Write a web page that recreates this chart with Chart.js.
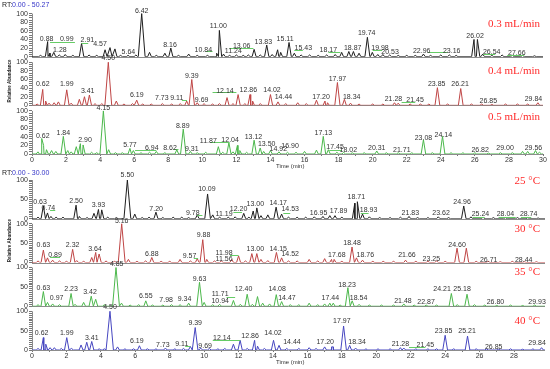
<!DOCTYPE html>
<html>
<head>
<meta charset="utf-8">
<script src="https://cdn.jsdelivr.net/npm/chart.js@4"></script>
<style>
body { margin: 0; background: #fff; width: 550px; height: 369px; overflow: hidden; position: relative; }
canvas { position: absolute; left: 0; }
#flow { top: 0; }
#temp { top: 168px; }
</style>
</head>
<body>
<canvas id="flow" width="550" height="172"></canvas>
<canvas id="temp" width="550" height="201"></canvas>
<script>
// panel names and axis labels
var flowNames = ['0.3 mL/min', '0.4 mL/min', '0.5 mL/min'];
var tempNames = ['25 \u00b0C', '30 \u00b0C', '35 \u00b0C', '40 \u00b0C'];
var yLabelsTop = [0, 20, 40, 60, 80, 100];
var yLabelsBottom = [0, 50, 100];
var xLabelsTop = [0, 2, 4, 6, 8, 10, 12, 14, 16, 18, 20, 22, 24, 26, 28, 30];
var xLabelsBottom = [0, 2, 4, 6, 8, 10, 12, 14, 16, 18, 20, 22, 24, 26, 28];

// peaks: [retention time (min), relative abundance %]
var peaks03 = [[0.5,3],[0.92,35],[1.05,8],[1.28,10],[1.6,4],[1.95,5],[2.4,3],[2.91,31],[3.35,4],[3.8,3],[4.29,16],[4.58,21],[4.87,18],[5.2,3],[5.64,3],[6.1,4],[6.44,100],[6.9,10],[7.3,3],[7.8,8],[8.15,20],[8.6,3],[9.2,6],[9.7,3],[10.3,3],[10.84,8],[11.0,61],[11.24,6],[11.6,3],[12.0,4],[12.4,3],[12.7,4],[13.04,17],[13.4,4],[13.78,27],[14.1,5],[14.42,16],[14.6,10],[15.09,33],[15.4,8],[15.8,4],[16.3,4],[16.8,3],[17.3,4],[17.8,5],[18.18,10],[18.6,12],[18.87,12],[19.2,8],[19.69,45],[19.98,10],[20.3,5],[20.6,5],[21.0,4],[21.5,3],[22.0,3],[22.5,3],[22.98,6],[23.4,3],[24.0,4],[24.5,4],[24.9,3],[25.95,40],[26.15,40],[26.46,6],[27.0,3],[27.6,4],[28.2,3],[28.8,3],[29.5,2]];
var peaks04 = [[0.3,3],[0.63,37],[0.8,10],[1.0,5],[1.3,6],[1.55,8],[2.04,36],[2.3,5],[2.78,14],[3.08,20],[3.37,24],[3.7,4],[4.1,4],[4.48,100],[4.95,10],[5.4,3],[5.9,4],[6.15,12],[6.5,3],[7.0,3],[7.65,4],[8.2,3],[8.7,4],[9.08,10],[9.38,60],[9.7,6],[10.1,4],[10.6,3],[11.0,4],[11.45,18],[11.8,4],[12.1,25],[12.5,4],[12.8,25],[12.95,10],[13.4,4],[14.0,25],[14.44,8],[14.9,4],[15.6,6],[16.1,4],[16.7,12],[17.2,10],[17.35,6],[17.93,53],[18.34,14],[18.7,5],[19.2,3],[20.0,3],[20.6,3],[21.28,6],[21.5,5],[22.2,3],[22.8,3],[23.3,3],[23.8,41],[24.4,3],[25.17,39],[25.8,3],[26.4,3],[27.0,2],[27.8,3],[28.5,3],[29.1,3],[29.7,6]];
var peaks05 = [[0.35,5],[0.57,36],[0.68,20],[0.85,10],[1.15,8],[1.4,6],[1.84,41],[2.1,8],[2.3,5],[2.6,17],[2.84,24],[3.0,21],[3.5,4],[3.8,3],[4.19,100],[4.5,10],[4.9,3],[5.3,3],[5.75,13],[5.95,8],[6.4,3],[6.9,4],[7.3,6],[7.8,3],[8.5,10],[8.88,58],[9.3,6],[9.7,3],[10.2,4],[10.94,17],[11.2,4],[11.56,26],[11.8,5],[12.06,20],[12.2,8],[12.6,4],[13.04,32],[13.4,14],[13.6,6],[14.0,8],[14.5,5],[15.0,4],[15.5,4],[16.0,6],[16.7,9],[17.1,41],[17.4,10],[17.9,4],[18.3,4],[18.8,3],[19.5,3],[20.24,7],[20.8,3],[21.5,3],[22.3,3],[22.98,33],[23.5,3],[24.1,41],[24.6,3],[25.3,3],[26.0,3],[26.8,2],[27.5,3],[28.2,3],[28.8,6],[29.1,6],[29.56,8],[29.8,4]];
var peaks25 = [[0.35,4],[0.66,33],[0.9,15],[1.1,6],[1.4,4],[1.8,4],[2.56,35],[2.75,6],[3.2,3],[3.6,14],[3.86,24],[4.05,23],[4.4,4],[4.9,3],[5.54,100],[5.97,12],[6.4,3],[6.8,4],[7.2,17],[7.6,3],[8.2,4],[8.7,4],[9.1,3],[9.6,10],[10.2,64],[10.5,10],[10.9,4],[11.4,4],[11.8,5],[12.3,14],[12.6,4],[12.85,20],[13.06,28],[13.3,8],[13.7,10],[14.18,30],[14.5,12],[14.9,4],[15.4,4],[15.9,4],[16.4,5],[16.9,6],[17.3,8],[17.6,8],[18.0,4],[18.75,40],[18.9,44],[19.2,12],[19.6,5],[20.2,3],[20.8,3],[21.4,4],[21.9,6],[22.4,3],[23.0,3],[23.6,5],[24.2,3],[25.08,33],[25.5,5],[26.2,4],[26.8,3],[27.5,3],[28.2,3],[28.8,3],[29.4,2]];
var peaks30 = [[0.35,4],[0.66,32],[0.9,12],[1.2,6],[1.6,4],[2.0,3],[2.36,34],[2.6,5],[3.0,3],[3.47,13],[3.7,26],[3.9,22],[4.3,4],[4.8,3],[5.21,100],[5.6,8],[6.1,3],[6.6,4],[6.96,13],[7.5,3],[8.0,3],[8.6,8],[9.2,4],[9.6,10],[9.92,59],[10.15,8],[10.6,4],[11.0,4],[11.6,8],[12.0,17],[12.4,4],[12.77,23],[13.06,23],[13.3,8],[13.7,5],[14.2,26],[14.5,12],[14.9,4],[15.4,4],[16.1,8],[16.6,4],[17.0,10],[17.4,8],[17.55,8],[18.0,3],[18.59,40],[18.85,12],[19.2,6],[19.8,3],[20.4,3],[21.0,3],[21.7,6],[22.3,3],[23.0,3],[23.5,4],[24.0,3],[24.69,37],[25.23,37],[25.8,3],[26.5,3],[27.2,2],[27.9,3],[28.6,2],[29.3,2]];
var peaks35 = [[0.35,4],[0.66,38],[0.9,10],[1.2,6],[1.6,4],[2.27,33],[2.5,5],[3.0,10],[3.44,26],[3.7,18],[4.2,4],[4.88,100],[5.2,8],[5.7,3],[6.2,4],[6.61,14],[7.0,3],[7.6,3],[8.1,4],[8.6,4],[9.1,8],[9.73,62],[10.0,10],[10.5,4],[10.9,5],[11.7,15],[12.1,5],[12.5,31],[12.8,5],[13.1,25],[13.4,8],[13.8,6],[14.19,30],[14.5,12],[15.0,4],[15.5,4],[16.1,8],[16.6,4],[17.0,6],[17.3,8],[17.5,8],[17.9,3],[18.35,48],[18.6,14],[19.0,5],[19.6,3],[20.3,3],[21.0,3],[21.6,6],[22.2,3],[22.9,3],[23.5,3],[24.36,33],[24.7,4],[25.27,31],[25.7,4],[26.3,3],[27.0,2],[27.8,3],[28.5,2],[29.2,3]];
var peaks40 = [[0.35,4],[0.66,32],[0.8,15],[1.05,6],[1.3,6],[1.7,4],[2.02,32],[2.3,4],[2.85,13],[3.18,20],[3.47,22],[3.9,3],[4.2,3],[4.53,100],[4.97,8],[5.4,3],[5.9,3],[6.24,11],[6.7,3],[7.2,3],[7.75,5],[8.3,3],[8.8,4],[9.2,9],[9.48,58],[9.8,5],[10.3,4],[10.8,3],[11.2,4],[11.7,15],[12.09,25],[12.5,4],[12.93,25],[13.1,10],[13.5,4],[14.03,25],[14.35,12],[14.8,4],[15.5,4],[16.1,6],[16.5,4],[17.0,8],[17.4,8],[17.5,8],[18.1,62],[18.45,12],[18.8,5],[19.4,3],[20.1,3],[20.8,3],[21.4,6],[21.6,5],[22.3,3],[23.0,3],[23.5,3],[24.0,38],[24.5,3],[25.3,36],[25.8,3],[26.4,3],[27.1,2],[27.8,3],[28.5,2],[29.1,3],[29.6,6]];

// peak annotations: [text, time where the text is centred, height of text centre %]
var labels03 = [['0.88',0.86,42],['0.99',2.04,41],['1.28',1.64,16],['2.91',3.25,38],['4.57',3.99,30],['5.64',5.66,10],['6.42',6.44,107],['8.16',8.1,27],['10.84',10.06,16],['11.00',10.94,71],['11.24',11.82,12],['13.06',12.31,25],['13.83',13.58,33],['15.11',14.86,40],['15.43',15.93,20],['18.17',17.4,16],['18.87',18.83,19],['19.74',19.65,54],['19.98',20.43,20],['20.53',21.02,11],['22.96',22.88,14],['23.16',24.64,14],['26.02',26.01,49],['26.54',26.99,10],['27.66',28.46,8]];
var labels04 = [['0.62',0.63,50],['1.99',2.04,50],['3.41',3.27,33],['4.50',4.48,109],['6.19',6.15,23],['7.73',7.62,16],['9.11',8.5,16],['9.39',9.38,68],['9.69',9.96,12],['12.14',11.33,33],['12.86',12.7,36],['14.02',14.09,36],['14.44',14.76,19],['17.20',16.97,19],['17.97',17.93,60],['18.34',18.77,19],['21.28',21.22,14],['21.45',22.49,12],['23.85',23.76,49],['26.21',25.13,49],['26.85',26.79,10],['29.84',29.44,14]];
var labels05 = [['0.62',0.63,41],['1.84',1.84,49],['2.90',3.11,33],['4.15',4.19,106],['5.77',5.75,20],['6.94',7.03,13],['8.62',8.1,14],['8.89',8.85,65],['9.31',9.38,11],['11.87',10.35,30],['12.04',11.63,33],['13.12',13.0,39],['13.50',13.78,24],['14.92',14.46,11],['16.90',15.15,18],['17.13',17.1,48],['17.45',17.79,17],['18.02',18.57,9],['20.31',20.24,13],['21.71',21.71,9],['23.08',22.98,38],['24.14',24.15,45],['26.82',26.31,9],['29.00',27.77,13],['29.56',29.44,14]];
var labels25 = [['0.63',0.47,42],['0.74',0.95,28],['2.50',2.56,45],['3.93',3.86,35],['5.50',5.54,112],['7.20',7.21,26],['9.78',9.34,15],['10.09',10.16,76],['11.19',11.16,11],['12.20',12.0,24],['13.00',12.97,38],['14.17',14.3,40],['14.53',15.0,24],['16.95',16.65,15],['17.89',17.81,20],['18.71',18.84,56],['18.93',19.55,22],['21.83',21.98,15],['23.62',23.76,15],['24.96',24.98,42],['25.24',26.05,13],['28.04',27.5,13],['28.74',28.85,13]];
var labels30 = [['0.63',0.66,45],['0.89',1.34,20],['2.32',2.36,45],['3.64',3.66,34],['5.16',5.21,106],['6.88',6.96,22],['9.57',9.15,17],['9.88',9.96,70],['11.98',11.16,24],['11.56',11.16,9],['13.00',12.97,34],['14.15',14.3,34],['14.52',15.0,22],['17.68',17.71,20],['18.48',18.59,51],['18.76',19.36,20],['21.66',21.78,20],['23.25',23.2,9],['24.60',24.69,45],['26.71',26.53,7],['28.44',28.56,7]];
var labels35 = [['0.63',0.66,48],['0.97',1.43,20],['2.23',2.27,44],['3.42',3.37,37],['4.85',4.92,110],['6.55',6.61,26],['7.98',7.79,16],['9.34',8.86,18],['9.63',9.73,69],['11.71',10.93,31],['10.94',10.93,14],['12.40',12.29,44],['14.08',14.24,44],['14.47',14.81,20],['17.44',17.33,20],['18.23',18.3,56],['18.54',18.97,20],['21.48',21.55,14],['22.87',22.89,12],['24.21',23.82,45],['25.18',24.98,45],['26.80',26.92,12],['29.93',29.34,12]];
var labels40 = [['0.62',0.56,45],['1.99',2.02,43],['3.41',3.47,32],['4.50',4.53,110],['6.19',6.09,22],['7.73',7.6,14],['9.11',8.7,16],['9.39',9.48,70],['9.69',10.06,11],['12.14',11.03,32],['12.86',12.67,36],['14.02',14.0,43],['14.44',15.1,20],['17.20',17.03,20],['17.97',18.0,76],['18.34',18.88,20],['21.28',21.4,16],['21.45',22.85,14],['23.85',23.91,48],['25.21',25.27,48],['26.85',26.82,7],['29.84',29.34,18]];

// green leader lines of displaced annotations: [from time, to time, height %]
var leaders03 = [[1.06,2.52,35],[2.9,3.3,32],[10.2,10.6,12],[11.6,13.0,20],[15.4,15.9,16],[17.4,18.1,11],[20.0,20.55,16],[23.25,24.4,11],[26.5,27.2,6],[27.9,28.9,5]];
var leaders04 = [[8.8,9.1,12],[10.6,12.0,30],[21.7,22.5,8]];
var leaders05 = [[6.05,7.3,9],[8.3,8.6,12],[10.45,11.6,27],[17.45,18.2,10]];
var leaders25 = [[1.05,1.35,22],[9.6,9.9,10],[11.7,12.2,17],[14.6,15.0,14],[19.1,19.55,14],[25.6,26.3,5],[27.1,28.1,5],[28.4,29.0,5]];
var leaders30 = [[1.05,1.63,15],[9.4,9.65,11],[11.5,12.0,19]];
var leaders35 = [[11.3,11.8,25]];
var leaders40 = [[8.9,9.2,11],[10.5,12.1,27],[21.9,22.85,9]];

function trace(peaks) {
    var pts = [{ x: 0, y: 0 }, { x: 30, y: 0 }];
    for (var i = 0; i < peaks.length; i++) {
        var t = peaks[i][0], h = peaks[i][1];
        var w = 0.1 + h / 1000;
        pts.push({ x: t - w, y: 0 }, { x: t, y: h }, { x: t + w, y: 0 });
    }
    pts.sort(function (a, b) { return a.x - b.x; });
    return pts;
}

var decor = {
    id: 'decor',
    beforeDatasetsDraw: function (chart, args, o) {
        var ctx = chart.ctx, xs = chart.scales.x;
        ctx.save();
        ctx.strokeStyle = '#8c8c8c';
        ctx.lineWidth = 1;
        o.panels.forEach(function (p) {
            var ys = chart.scales[p.axis];
            var y0 = Math.round(ys.getPixelForValue(0)) + 0.5;
            var y100 = ys.getPixelForValue(100);
            ctx.beginPath();
            ctx.moveTo(xs.left, y0);
            ctx.lineTo(xs.right, y0);
            ctx.moveTo(xs.left + 0.5, y0);
            ctx.lineTo(xs.left + 0.5, y100);
            ctx.stroke();
        });
        ctx.restore();
    },
    afterDatasetsDraw: function (chart, args, o) {
        var ctx = chart.ctx, xs = chart.scales.x;
        ctx.save();
        o.panels.forEach(function (p) {
            var ys = chart.scales[p.axis];
            ctx.strokeStyle = '#66cc66';
            ctx.lineWidth = 1;
            p.leaders.forEach(function (l) {
                var yy = Math.round(ys.getPixelForValue(l[2])) + 0.5;
                ctx.beginPath();
                ctx.moveTo(xs.getPixelForValue(l[0]), yy);
                ctx.lineTo(xs.getPixelForValue(l[1]), yy);
                ctx.stroke();
            });
            ctx.fillStyle = '#333';
            ctx.font = '7px "Liberation Sans", Arial, sans-serif';
            ctx.textAlign = 'center';
            ctx.textBaseline = 'middle';
            p.labels.forEach(function (l) {
                ctx.fillText(l[0], xs.getPixelForValue(l[1]), ys.getPixelForValue(l[2]));
            });
            ctx.fillStyle = '#ff2a2a';
            ctx.font = '11px "Liberation Serif", "Times New Roman", serif';
            ctx.textAlign = 'right';
            ctx.fillText(p.name, 540, ys.getPixelForValue(p.nameAt));
            if (p.yTitle) {
                ctx.save();
                ctx.translate(10, (ys.top + ys.bottom) / 2);
                ctx.rotate(-Math.PI / 2);
                ctx.fillStyle = '#222';
                ctx.font = 'bold 4.5px "Liberation Sans", Arial, sans-serif';
                ctx.textAlign = 'center';
                ctx.fillText('Relative Abundance', 0, 0);
                ctx.restore();
            }
        });
        ctx.font = '7px "Liberation Sans", Arial, sans-serif';
        ctx.textAlign = 'left';
        ctx.textBaseline = 'middle';
        ctx.fillStyle = '#222';
        ctx.fillText('RT:', 2, 5);
        ctx.fillStyle = '#3535c8';
        ctx.fillText(o.rt, 12, 5);
        ctx.fillStyle = '#333';
        ctx.font = '6px "Liberation Sans", Arial, sans-serif';
        ctx.fillText('Time (min)', 276, chart.chartArea.bottom + 12);
        ctx.restore();
    }
};

function makeChart(id, panels, xmax, xLabels, yLabels, rt, pad) {
    var font = { family: '"Liberation Sans", Arial, sans-serif', size: 7 };
    var scales = {
        x: {
            type: 'linear', min: 0, max: xmax,
            afterFit: function (s) { s.height = 16; },
            afterBuildTicks: function (s) { s.ticks = s.ticks.filter(function (t) { return t.value % 1 === 0; }); },
            ticks: {
                stepSize: 1, autoSkip: false, maxRotation: 0, font: font, color: '#333', padding: 0,
                callback: function (v) { return xLabels.indexOf(v) >= 0 ? v : ''; }
            },
            grid: { drawOnChartArea: false, tickLength: 2, color: '#777' },
            border: { display: false }
        }
    };
    panels.forEach(function (p, i) {
        scales[p.axis] = {
            type: 'linear', position: 'left', stack: 'panels', stackWeight: 1, weight: panels.length - i,
            min: 0, max: 113,
            afterFit: function (s) { s.width = 32; },
            afterBuildTicks: function (s) { s.ticks = s.ticks.filter(function (t) { return t.value <= 100; }); },
            ticks: {
                stepSize: 5, autoSkip: false, font: font, color: '#333', padding: 1,
                callback: function (v) { return yLabels.indexOf(v) >= 0 ? v : ''; }
            },
            grid: { drawOnChartArea: false, tickLength: 3, color: '#777' },
            border: { display: false }
        };
    });
    var datasets = panels.map(function (p) {
        return {
            data: trace(p.peaks), yAxisID: p.axis, borderColor: p.color,
            borderWidth: 1, pointRadius: 0, tension: 0, fill: false
        };
    });
    return new Chart(document.getElementById(id), {
        type: 'line',
        data: { datasets: datasets },
        options: {
            responsive: false,
            animation: false,
            layout: { padding: pad },
            plugins: {
                legend: { display: false },
                tooltip: { enabled: false },
                decor: { panels: panels, rt: rt }
            },
            scales: scales
        },
        plugins: [decor]
    });
}

makeChart('flow', [
    { axis: 'y1', name: flowNames[0], nameAt: 75, color: '#1e1e1e', peaks: peaks03, labels: labels03, leaders: leaders03 },
    { axis: 'y2', name: flowNames[1], nameAt: 80, color: '#bf4545', peaks: peaks04, labels: labels04, leaders: leaders04, yTitle: true },
    { axis: 'y3', name: flowNames[2], nameAt: 85, color: '#4cb84c', peaks: peaks05, labels: labels05, leaders: leaders05 }
], 30, xLabelsTop, yLabelsTop, '0.00 - 50.27', { top: 8, right: 7, bottom: 2, left: 0 });

makeChart('temp', [
    { axis: 'y4', name: tempNames[0], nameAt: 97, color: '#1e1e1e', peaks: peaks25, labels: labels25, leaders: leaders25 },
    { axis: 'y5', name: tempNames[1], nameAt: 87, color: '#bf4545', peaks: peaks30, labels: labels30, leaders: leaders30, yTitle: true },
    { axis: 'y6', name: tempNames[2], nameAt: 87, color: '#4cb84c', peaks: peaks35, labels: labels35, leaders: leaders35 },
    { axis: 'y7', name: tempNames[3], nameAt: 75, color: '#4646c0', peaks: peaks40, labels: labels40, leaders: leaders40 }
], 29.8, xLabelsBottom, yLabelsBottom, '0.00 - 30.00', { top: 7, right: 5, bottom: 3, left: 0 });
</script>
</body>
</html>
